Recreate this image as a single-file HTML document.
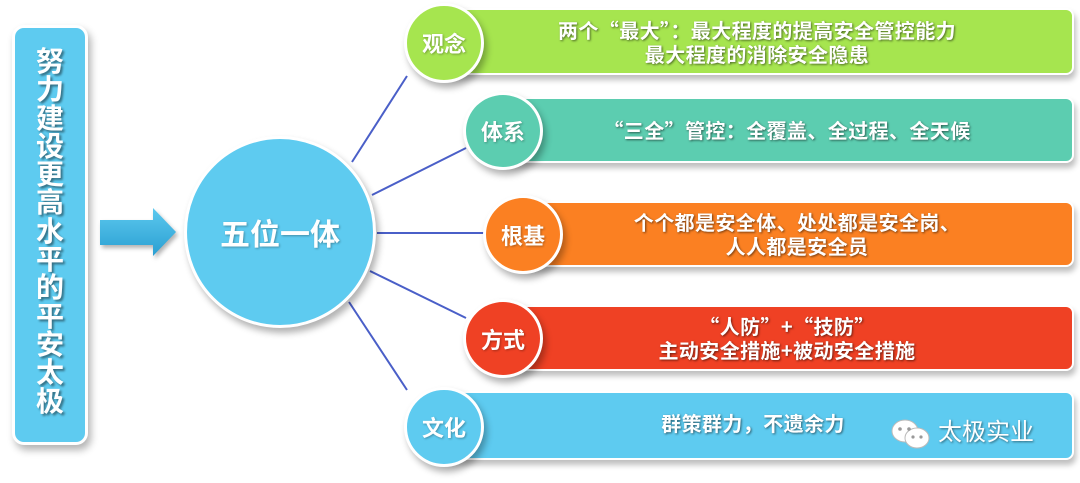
<!DOCTYPE html>
<html><head><meta charset="utf-8"><style>
body{margin:0;width:1080px;height:483px;background:#fff;position:relative;overflow:hidden;font-family:"Liberation Sans","Noto Sans CJK SC",sans-serif;}
.a{position:absolute;}
.box{left:12px;top:25px;width:76px;height:420px;background:#5ecbf0;border:3px solid #fff;box-sizing:border-box;border-radius:12px;box-shadow:3px 5px 8px rgba(0,0,0,.3);}
.vt{left:22px;top:48px;width:56px;color:#fff;font-size:28px;font-weight:bold;line-height:28.3px;text-align:center;text-shadow:2px 2px 2px rgba(0,0,0,.45);}
.bar{border-radius:8px;box-shadow:2px 5px 6px rgba(0,0,0,.25);border:2px solid #fff;box-sizing:border-box;color:#fff;font-family:"Noto Sans CJK SC",sans-serif;font-weight:bold;font-size:20px;letter-spacing:0.4px;line-height:24px;text-align:center;display:flex;align-items:center;justify-content:center;flex-direction:column;text-shadow:1px 1px 2px rgba(0,0,0,.55);}
.c{border-radius:50%;border:3px solid #fff;box-sizing:border-box;box-shadow:3px 5px 7px rgba(0,0,0,.3);color:#fff;font-weight:bold;font-size:22px;display:flex;align-items:center;justify-content:center;text-shadow:1px 1px 2px rgba(0,0,0,.3);}
</style></head><body>
<div class="a box"></div>
<div class="a vt">努<br>力<br>建<br>设<br>更<br>高<br>水<br>平<br>的<br>平<br>安<br>太<br>极</div>
<svg class="a" style="left:0;top:0" width="1080" height="483">
<defs><linearGradient id="g" x1="0" y1="0" x2="0" y2="1"><stop offset="0" stop-color="#5cc8ee"/><stop offset="1" stop-color="#2a9fd2"/></linearGradient></defs>
<path d="M100 220 H153 V208 L176 232 L153 256 V245 H100 Z" fill="url(#g)" style="filter:drop-shadow(2px 3px 2px rgba(0,0,0,.3))"/>
<g stroke="#4a5fc8" stroke-width="2">
<line x1="352" y1="162" x2="407" y2="76"/>
<line x1="372" y1="195" x2="466" y2="148"/>
<line x1="377" y1="233" x2="484" y2="233"/>
<line x1="370" y1="271" x2="466" y2="318"/>
<line x1="349" y1="302" x2="407" y2="390"/>
</g>
</svg>
<div class="a c" style="left:184px;top:136px;width:192px;height:192px;background:#5ecbf0;font-size:30px;">五位一体</div>

<div class="a bar" style="left:440px;top:8px;width:634px;height:67px;background:#a6e54f;"><div>两个“最大”：最大程度的提高安全管控能力</div><div>最大程度的消除安全隐患</div></div>
<div class="a bar" style="left:500px;top:97px;width:574px;height:66px;background:#5ccdb0;"><div>“三全”管控：全覆盖、全过程、全天候</div></div>
<div class="a bar" style="left:520px;top:201px;width:554px;height:66px;background:#fb8022;"><div>个个都是安全体、处处都是安全岗、</div><div>人人都是安全员</div></div>
<div class="a bar" style="left:500px;top:305px;width:574px;height:66px;background:#ef4124;"><div>“人防”+“技防”</div><div>主动安全措施+被动安全措施</div></div>
<div class="a bar" style="left:440px;top:391px;width:634px;height:69px;background:#5ecbf0;"><div style="margin-left:-8px;margin-top:-6px">群策群力，不遗余力</div></div>

<div class="a c" style="left:404px;top:3px;width:80px;height:80px;background:#a6e54f">观念</div>
<div class="a c" style="left:463px;top:92px;width:80px;height:78px;background:#5ccdb0">体系</div>
<div class="a c" style="left:483px;top:195px;width:80px;height:79px;background:#fb8022">根基</div>
<div class="a c" style="left:463px;top:299px;width:80px;height:79px;background:#ef4124">方式</div>
<div class="a c" style="left:404px;top:387px;width:80px;height:80px;background:#5ecbf0">文化</div>

<svg class="a" style="left:890px;top:418px" width="44" height="34">
<ellipse cx="15" cy="13" rx="13" ry="11" fill="#fff" stroke="#bbb"/>
<ellipse cx="27" cy="20" rx="12" ry="10" fill="#fff" stroke="#bbb"/>
<circle cx="10" cy="11" r="1.8" fill="#999"/><circle cx="19" cy="11" r="1.8" fill="#999"/>
<circle cx="23" cy="19" r="1.6" fill="#999"/><circle cx="31" cy="19" r="1.6" fill="#999"/>
</svg>
<div class="a" style="left:938px;top:418px;font-size:24px;color:#fff;text-shadow:1px 1px 2px rgba(0,0,0,.5);line-height:30px">太极实业</div>
</body></html>
